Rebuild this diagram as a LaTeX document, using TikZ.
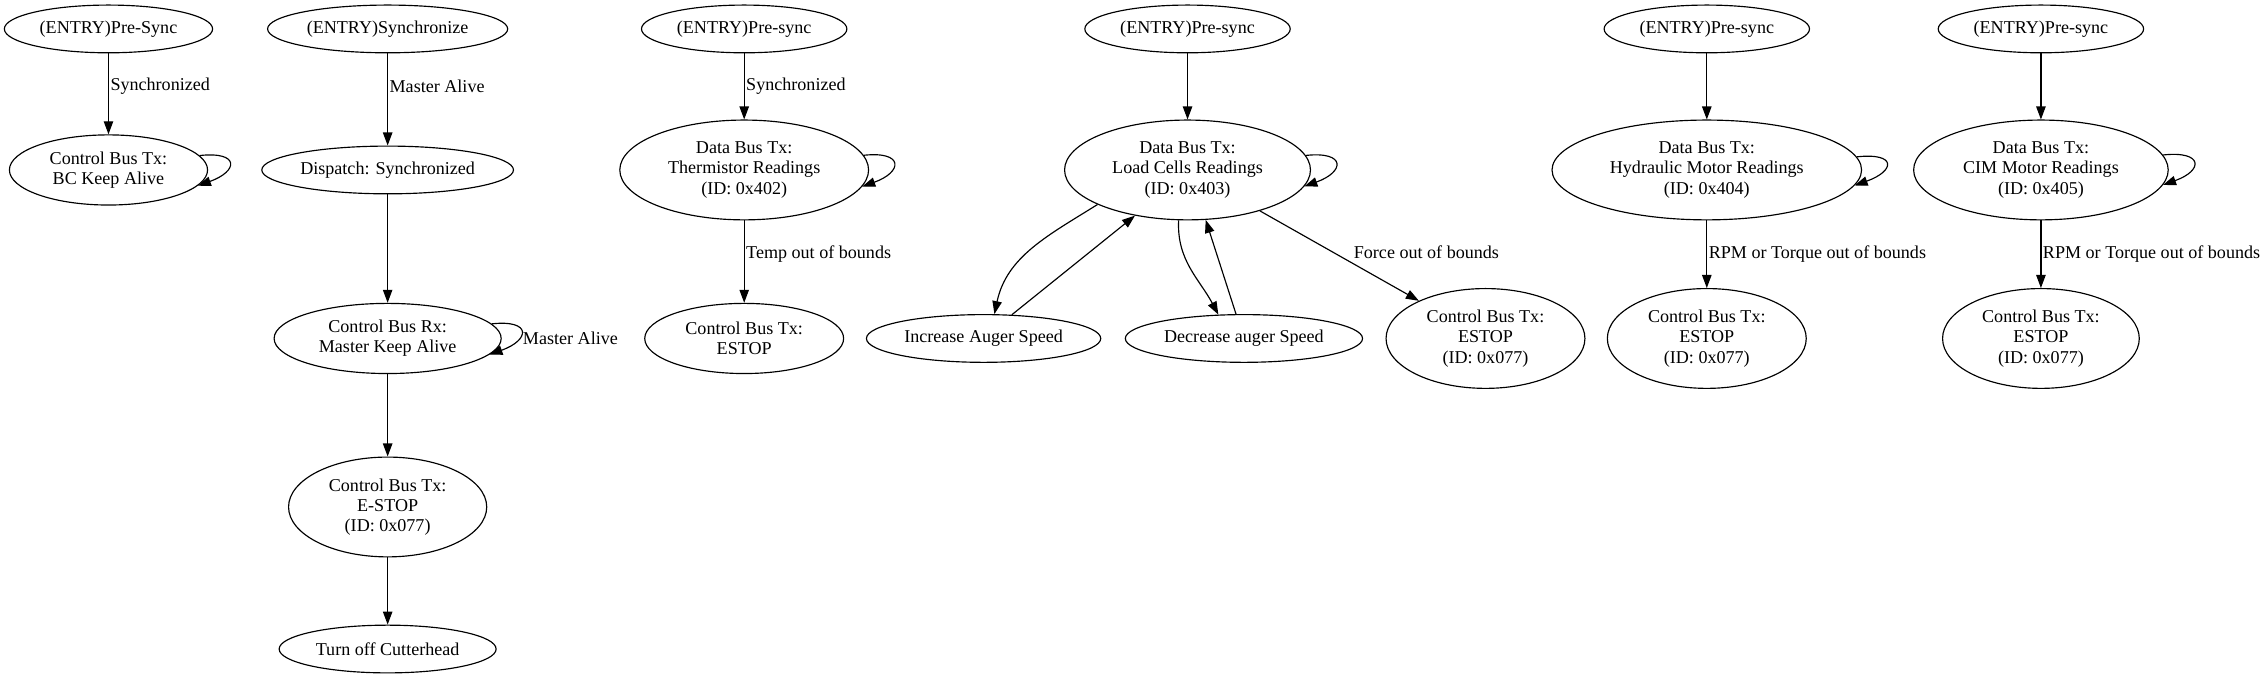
\documentclass[tikz,border=0pt]{standalone}
\usepackage{fontspec}
\setmainfont{Liberation Serif}
\usetikzlibrary{arrows.meta,shapes.geometric,positioning}
\tikzset{
  state/.style={draw, ellipse, align=center, inner sep=0pt, line width=.8pt,
    minimum height=33pt, font=\fontsize{12.5}{14}\selectfont},
  twoline/.style={minimum height=48.5pt},
  threeline/.style={minimum height=69pt},
  tr/.style={-{Triangle[length=9pt,width=6.5pt]}, line width=.8pt},
  lbl/.style={right, inner sep=1pt, font=\fontsize{12.5}{14}\selectfont}
}

\begin{document}
\begin{tikzpicture}[x=1pt,y=1pt]
\useasboundingbox (0,0) rectangle (1568,-469);

\node[state, minimum width=144pt] (g1e) at (75,-20) {(ENTRY)Pre-Sync};
\node[state, twoline, minimum width=137pt] (g1bc) at (75,-117.5) {Control Bus Tx:\\BC Keep Alive};
\draw[tr] (g1e) -- node[lbl, pos=.405] {Synchronized} (g1bc);
\draw[tr] (g1bc.9.6) .. controls +(28,3) and +(28,10) .. (g1bc.-10.8);

\node[state, minimum width=166pt] (g2e) at (268,-20) {(ENTRY)Synchronize};
\node[state, minimum width=174pt] (g2d) at (268,-117.5) {Dispatch: Synchronized};
\node[state, twoline, minimum width=157pt] (g2rx) at (268,-234) {Control Bus Rx:\\Master Keep Alive};
\node[state, threeline, minimum width=137pt] (g2es) at (268,-350.5) {Control Bus Tx:\\E-STOP\\(ID: 0x077)};
\node[state, minimum width=150pt] (g2off) at (268,-448.7) {Turn off Cutterhead};
\draw[tr] (g2e) -- node[lbl, pos=.357] {Master Alive} (g2d);
\draw[tr] (g2d) -- (g2rx);
\draw[tr] (g2rx.8.4) .. controls +(28,3) and +(28,10) .. node[lbl, pos=.5, yshift=-4pt] {Master Alive} (g2rx.-9.4);
\draw[tr] (g2rx) -- (g2es);
\draw[tr] (g2es) -- (g2off);

\node[state, minimum width=142pt] (g3e) at (514.5,-20) {(ENTRY)Pre-sync};
\node[state, threeline, minimum width=172pt] (g3th) at (514.5,-117.5) {Data Bus Tx:\\Thermistor Readings\\(ID: 0x402)};
\node[state, twoline, minimum width=137.5pt] (g3es) at (514.5,-234) {Control Bus Tx:\\ESTOP};
\draw[tr] (g3e) -- node[lbl, pos=.5] {Synchronized} (g3th);
\draw[tr] (g3th.7.3) .. controls +(28,3) and +(28,10) .. (g3th.-8.1);
\draw[tr] (g3th) -- node[lbl, pos=.41] {Temp out of bounds} (g3es);

\node[state, minimum width=142pt] (g4e) at (821,-20) {(ENTRY)Pre-sync};
\node[state, threeline, minimum width=170pt] (g4lc) at (821,-117.5) {Data Bus Tx:\\Load Cells Readings\\(ID: 0x403)};
\node[state, minimum width=162pt] (g4inc) at (680,-234) {Increase Auger Speed};
\node[state, minimum width=164pt] (g4dec) at (860,-234) {Decrease auger Speed};
\node[state, threeline, minimum width=137.5pt] (g4es) at (1027,-234) {Control Bus Tx:\\ESTOP\\(ID: 0x077)};
\draw[tr] (g4e) -- (g4lc);
\draw[tr] (g4lc.7.4) .. controls +(28,3) and +(28,10) .. (g4lc.-8.2);
\draw[tr] (g4lc.201) to[out=212, in=78] (g4inc.66);
\draw[tr] (g4inc.40) -- (g4lc.221);
\draw[tr] (g4lc.260) to[out=-93, in=118] (g4dec.137);
\draw[tr] (g4dec.108) -- (g4lc.-70);
\draw[tr] (g4lc) -- node[lbl, pos=.46, xshift=13pt] {Force out of bounds} (g4es);

\node[state, minimum width=142pt] (g5e) at (1180,-20) {(ENTRY)Pre-sync};
\node[state, threeline, minimum width=214pt] (g5hy) at (1180,-117.5) {Data Bus Tx:\\Hydraulic Motor Readings\\(ID: 0x404)};
\node[state, threeline, minimum width=137.5pt] (g5es) at (1180,-234) {Control Bus Tx:\\ESTOP\\(ID: 0x077)};
\draw[tr] (g5e) -- (g5hy);
\draw[tr] (g5hy.5.9) .. controls +(28,3) and +(28,10) .. (g5hy.-6.5);
\draw[tr] (g5hy) -- node[lbl, pos=.5] {RPM or Torque out of bounds} (g5es);

\node[state, minimum width=142pt] (g6e) at (1411,-20) {(ENTRY)Pre-sync};
\node[state, threeline, minimum width=176pt] (g6cim) at (1411,-117.5) {Data Bus Tx:\\CIM Motor Readings\\(ID: 0x405)};
\node[state, threeline, minimum width=136pt] (g6es) at (1411,-234) {Control Bus Tx:\\ESTOP\\(ID: 0x077)};
\draw[tr] (g6e) -- (g6cim);
\draw[tr] (g6cim.7.2) .. controls +(28,3) and +(28,10) .. (g6cim.-7.9);
\draw[tr] (g6cim) -- node[lbl, pos=.5] {RPM or Torque out of bounds} (g6es);

\end{tikzpicture}
\end{document}
